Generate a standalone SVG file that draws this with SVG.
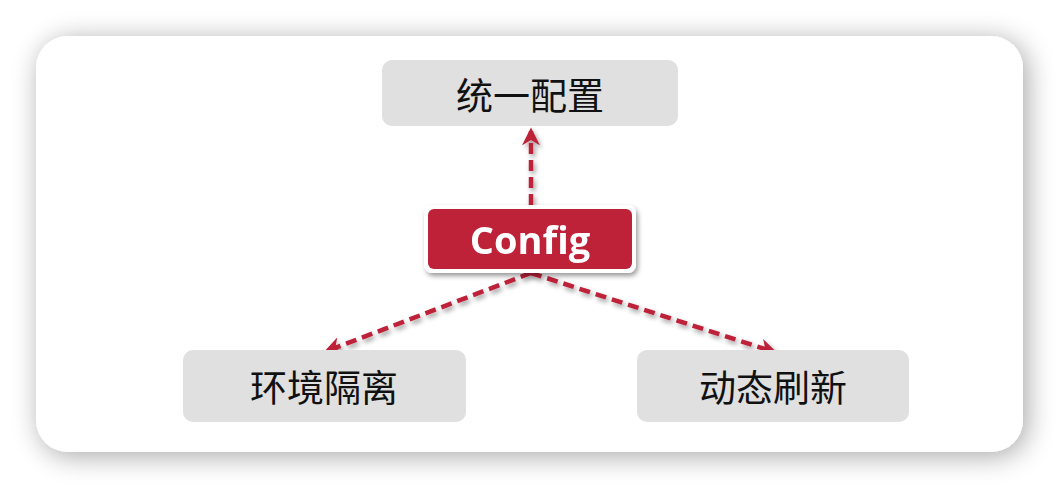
<svg xmlns="http://www.w3.org/2000/svg" width="1060" height="488" viewBox="0 0 1060 488">
<style>
.box{fill:#e0e0e0}
.lbl{font-family:"Noto Sans CJK SC","Noto Sans",sans-serif;font-size:37px;fill:#111;text-anchor:middle;dominant-baseline:central}
.conn{stroke:#bd2039;stroke-width:4.5;stroke-dasharray:11 6;fill:none;marker-end:url(#ah)}
</style>
<defs>
<filter id="cardsh" x="-10%" y="-20%" width="120%" height="140%">
<feGaussianBlur in="SourceAlpha" stdDeviation="14"/>
<feOffset dx="4" dy="4"/>
<feComponentTransfer><feFuncA type="linear" slope="0.35"/></feComponentTransfer>
<feMerge><feMergeNode/><feMergeNode in="SourceGraphic"/></feMerge>
</filter>
<filter id="sh" x="-20%" y="-30%" width="140%" height="160%">
<feGaussianBlur in="SourceAlpha" stdDeviation="2.5"/>
<feOffset dx="2" dy="3"/>
<feComponentTransfer><feFuncA type="linear" slope="0.4"/></feComponentTransfer>
<feMerge><feMergeNode/><feMergeNode in="SourceGraphic"/></feMerge>
</filter>
<marker id="ah" viewBox="0 0 10 10" refX="8" refY="5" markerWidth="4" markerHeight="4" orient="auto" markerUnits="strokeWidth">
<path d="M0,0 L10,5 L0,10 L3,5 Z" fill="#bd2039"/>
</marker>
</defs>
<rect x="36" y="36" width="987" height="416" rx="32" fill="#ffffff" filter="url(#cardsh)"/>
<g id="connectors" filter="url(#sh)">
<path class="conn" d="M531,205 L531,131"/>
<path class="conn" d="M531,273 L327,351"/>
<path class="conn" d="M531,273 L774,352"/>
</g>
<g id="node-top">
<rect class="box" x="382" y="60" width="296" height="66" rx="10"/>
<text class="lbl" x="530" y="94">统一配置</text>
</g>
<g id="node-config" filter="url(#sh)">
<rect x="424" y="205" width="212" height="68" rx="8" fill="#ffffff"/>
<rect x="428" y="209" width="204" height="60" rx="6" fill="#bd2039"/>
<text x="530" y="239" font-family="'Open Sans','Noto Sans',sans-serif" font-weight="bold" font-size="38" fill="#ffffff" text-anchor="middle" dominant-baseline="central">Config</text>
</g>
<g id="node-left">
<rect class="box" x="183" y="350" width="283" height="72" rx="10"/>
<text class="lbl" x="324" y="386">环境隔离</text>
</g>
<g id="node-right">
<rect class="box" x="637" y="350" width="272" height="72" rx="10"/>
<text class="lbl" x="773" y="386">动态刷新</text>
</g>
</svg>
